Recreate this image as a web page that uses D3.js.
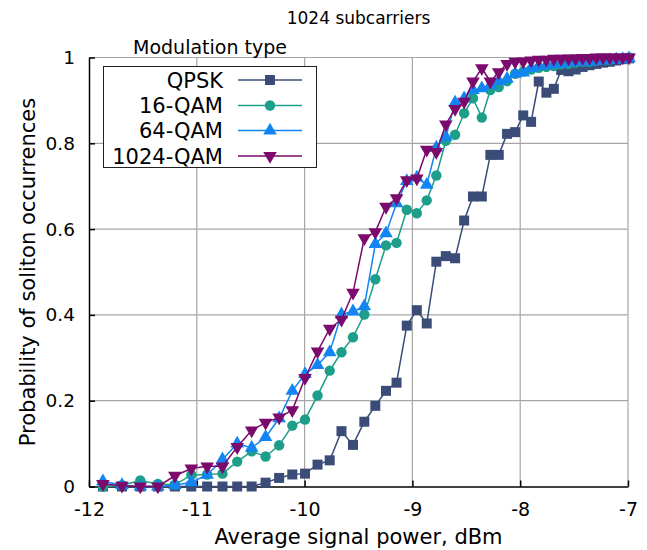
<!DOCTYPE html>
<html>
<head>
<meta charset="utf-8">
<script src="https://cdn.jsdelivr.net/npm/d3@7"></script>
<style>
  html, body { margin: 0; padding: 0; background: #fff; }
  svg text { font-family: "DejaVu Sans", sans-serif; }
</style>
</head>
<body>
<svg id="chart" width="647" height="550"></svg>
<script>
// ---- data ----
const powerDbm = [-11.871,-11.694,-11.524,-11.361,-11.203,-11.051,-10.904,-10.762,-10.625,-10.491,
  -10.362,-10.236,-10.114,-9.996,-9.880,-9.767,-9.658,-9.551,-9.446,-9.344,
  -9.245,-9.147,-9.052,-8.959,-8.867,-8.778,-8.690,-8.604,-8.520,-8.438,
  -8.356,-8.277,-8.199,-8.122,-8.047,-7.972,-7.899,-7.828,-7.757,-7.688,
  -7.620,-7.552,-7.486,-7.421,-7.357,-7.293,-7.231,-7.169,-7.109,-7.049,-6.990];

const qpsk = [0,0,0,0,0,0,0,0,0,0,
  0.009,0.020,0.028,0.030,0.051,0.061,0.129,0.097,0.151,0.188,
  0.223,0.242,0.375,0.411,0.380,0.524,0.537,0.532,0.620,0.676,
  0.676,0.773,0.773,0.822,0.826,0.865,0.850,0.944,0.918,0.927,
  0.971,0.968,0.972,0.978,0.982,0.985,0.988,0.990,0.993,0.996,0.998];

const qam16 = [0,0.003,0.014,0.006,0.004,0.027,0.028,0.030,0.058,0.082,
  0.070,0.096,0.142,0.156,0.212,0.270,0.313,0.348,0.401,0.483,
  0.562,0.568,0.645,0.637,0.667,0.725,0.806,0.820,0.870,0.905,
  0.860,0.924,0.931,0.945,0.962,0.967,0.972,0.976,0.978,0.980,
  0.984,0.985,0.988,0.990,0.990,0.993,0.995,0.995,0.997,0.998,1.0];

const qam64 = [0.012,0.003,0,0,0.003,0.010,0.027,0.063,0.100,0.090,
  0.115,0.159,0.223,0.262,0.283,0.313,0.401,0.408,0.420,0.565,
  0.590,0.660,0.712,0.720,0.703,0.790,0.815,0.895,0.905,0.924,
  0.928,0.936,0.945,0.950,0.962,0.965,0.975,0.980,0.982,0.985,
  0.985,0.988,0.990,0.990,0.990,0.992,0.993,0.994,0.995,0.996,0.998];

const qam1024 = [0.006,0.002,0,0,0.025,0.042,0.047,0.047,0.092,0.131,
  0.149,0.161,0.178,0.253,0.315,0.368,0.389,0.452,0.579,0.593,
  0.652,0.672,0.714,0.718,0.785,0.780,0.844,0.880,0.897,0.944,
  0.975,0.944,0.966,0.985,0.990,0.991,0.993,0.995,0.995,0.997,
  0.997,0.998,0.998,0.999,0.999,1,1,1,1,1,1];

const seriesNames = ["QPSK", "16-QAM", "64-QAM", "1024-QAM"];
const seriesValues = [qpsk, qam16, qam64, qam1024];
const seriesColors = ["#3b4c78", "#1c9e8a", "#1285f2", "#7a0a6c"];
const seriesSymbols = [d3.symbolSquare, d3.symbolCircle, d3.symbolTriangle, d3.symbolTriangle];

const xTicks = [-12, -11, -10, -9, -8, -7];
const yTicks = [0, 0.2, 0.4, 0.6, 0.8, 1];
const titleText = "1024 subcarriers";
const xLabel = "Average signal power, dBm";
const yLabel = "Probability of soliton occurrences";
const legendTitle = "Modulation type";

// ---- layout ----
const svg = d3.select("#chart");
const L = 89, R = 628, T = 57.5, B = 486.5;
const x = d3.scaleLinear().domain([-12, -7]).range([L, R]);
const y = d3.scaleLinear().domain([0, 1]).range([B, T]);

// grid
const grid = svg.append("g");
grid.selectAll(".gx").data(xTicks.filter(d => d > -12)).enter().append("line")
  .attr("x1", d => x(d)).attr("x2", d => x(d)).attr("y1", B).attr("y2", T)
  .attr("stroke", "#a6a6a6").attr("stroke-width", 1.2);
grid.selectAll(".gy").data(yTicks.filter(d => d > 0)).enter().append("line")
  .attr("y1", d => y(d)).attr("y2", d => y(d)).attr("x1", L).attr("x2", R)
  .attr("stroke", "#a6a6a6").attr("stroke-width", 1.2);

// axes
const xAxis = d3.axisBottom(x).tickValues(xTicks).tickSizeInner(-6).tickSizeOuter(0).tickPadding(16)
  .tickFormat(d => d3.format("d")(d).replace("−", "-"));
const gx = svg.append("g").attr("transform", `translate(0,${B})`).call(xAxis);
gx.select(".domain").attr("stroke", "#000").attr("stroke-width", 1.5);
gx.selectAll(".tick line").attr("stroke", "#000").attr("stroke-width", 1.5);
gx.selectAll("text").attr("font-size", 19).attr("fill", "#000");

const yAxis = d3.axisLeft(y).tickValues(yTicks).tickSizeInner(-6).tickSizeOuter(0).tickPadding(14)
  .tickFormat(d => d === 0 || d === 1 ? String(d) : d3.format(".1f")(d));
const gy = svg.append("g").attr("transform", `translate(${L},0)`).call(yAxis);
gy.select(".domain").attr("stroke", "#000").attr("stroke-width", 1.5);
gy.selectAll(".tick line").attr("stroke", "#000").attr("stroke-width", 1.5);
gy.selectAll("text").attr("font-size", 18.5).attr("fill", "#000");

// series
seriesValues.forEach((vals, si) => {
  const pts = vals.map((v, i) => [powerDbm[i], v]);
  const line = d3.line().x(d => x(d[0])).y(d => y(d[1]));
  const g = svg.append("g");
  g.append("path").datum(pts).attr("d", line).attr("fill", "none")
    .attr("stroke", seriesColors[si]).attr("stroke-width", 1.5);
  const sym = d3.symbol().type(seriesSymbols[si]).size(si === 0 ? 100 : (si === 1 ? 85 : 80));
  g.selectAll("path.m").data(pts).enter().append("path").attr("class", "m")
    .attr("d", sym)
    .attr("transform", d => `translate(${x(d[0])},${y(d[1])})` + (si === 3 ? " rotate(180)" : ""))
    .attr("fill", seriesColors[si]);
});

// titles
svg.append("text").attr("x", (L + R) / 2).attr("y", 24).attr("text-anchor", "middle")
  .attr("font-size", 17).text(titleText);
svg.append("text").attr("x", (L + R) / 2).attr("y", 544).attr("text-anchor", "middle")
  .attr("font-size", 21).text(xLabel);
svg.append("text").attr("transform", `translate(35,${(T + B) / 2}) rotate(-90)`)
  .attr("text-anchor", "middle").attr("font-size", 21).text(yLabel);

// legend
const lg = svg.append("g");
lg.append("text").attr("x", 210).attr("y", 54).attr("text-anchor", "middle")
  .attr("font-size", 19).text(legendTitle);
lg.append("rect").attr("x", 103.5).attr("y", 66.5).attr("width", 213).attr("height", 101)
  .attr("fill", "#fff").attr("stroke", "#222").attr("stroke-width", 1);
const rowY = [80, 105.5, 130.5, 156];
seriesNames.forEach((name, si) => {
  lg.append("text").attr("x", 223).attr("y", rowY[si]).attr("dy", "0.36em")
    .attr("text-anchor", "end").attr("font-size", 21).text(name);
  lg.append("line").attr("x1", 238).attr("x2", 302).attr("y1", rowY[si]).attr("y2", rowY[si])
    .attr("stroke", seriesColors[si]).attr("stroke-width", 1.5);
  const sym = d3.symbol().type(seriesSymbols[si]).size(si === 0 ? 100 : (si === 1 ? 85 : 80));
  lg.append("path").attr("d", sym)
    .attr("transform", `translate(270,${rowY[si]})` + (si === 3 ? " rotate(180)" : ""))
    .attr("fill", seriesColors[si]);
});
</script>
</body>
</html>
